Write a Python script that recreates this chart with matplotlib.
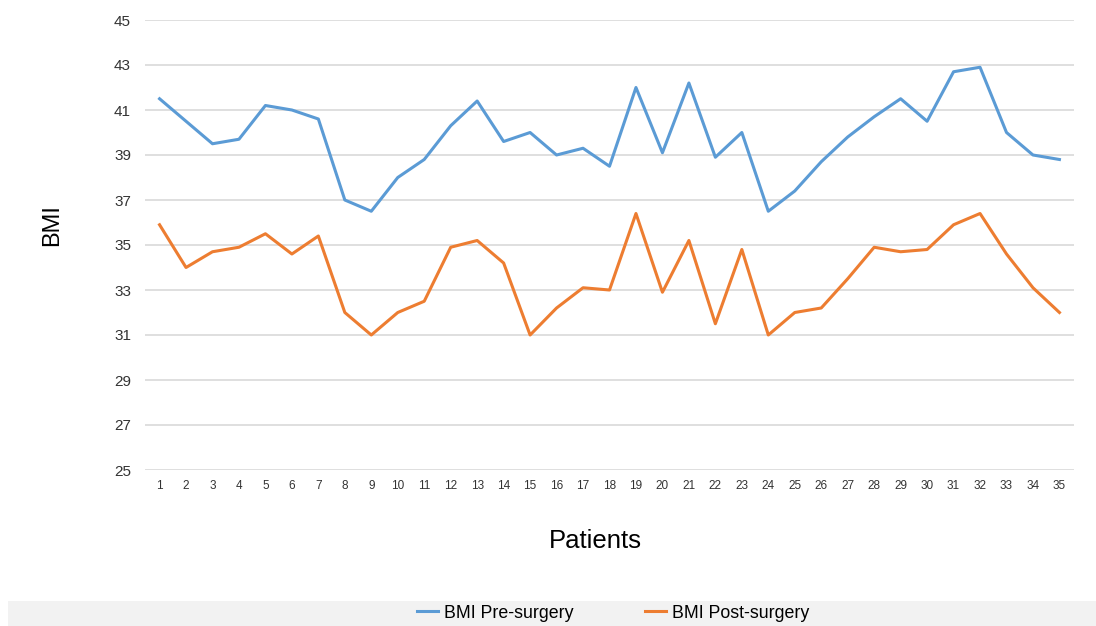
import matplotlib.pyplot as plt
from matplotlib.patches import Rectangle

plt.rcParams['font.family'] = ['Liberation Sans', 'DejaVu Sans']

# Datos
patients = list(range(1, 36))
bmi_pre = [41.5, 40.5, 39.5, 39.7, 41.2, 41.0, 40.6, 37.0, 36.5, 38.0,
           38.8, 40.3, 41.4, 39.6, 40.0, 39.0, 39.3, 38.5, 42.0, 39.1,
           42.2, 38.9, 40.0, 36.5, 37.4, 38.7, 39.8, 40.7, 41.5, 40.5,
           42.7, 42.9, 40.0, 39.0, 38.8]
bmi_post = [35.9, 34.0, 34.7, 34.9, 35.5, 34.6, 35.4, 32.0, 31.0, 32.0,
            32.5, 34.9, 35.2, 34.2, 31.0, 32.2, 33.1, 33.0, 36.4, 32.9,
            35.2, 31.5, 34.8, 31.0, 32.0, 32.2, 33.5, 34.9, 34.7, 34.8,
            35.9, 36.4, 34.6, 33.1, 32.0]
y_ticks = list(range(25, 46, 2))

fig = plt.figure(figsize=(10.96, 6.26), dpi=100)
ax = fig.add_axes([145 / 1096, 1 - 470 / 626, (1074 - 145) / 1096, (470 - 20) / 626])

ax.plot(patients, bmi_pre, color='#5B9BD5', lw=2.2, label='BMI Pre-surgery')
ax.plot(patients, bmi_post, color='#ED7D31', lw=2.2, label='BMI Post-surgery')

ax.set_xlim(0.45, 35.55)
ax.set_ylim(25, 45)
ax.set_yticks(y_ticks)
ax.set_xticks(patients)
ax.tick_params(axis='x', labelsize=8.5, length=0, pad=7, colors='#333333')
ax.tick_params(axis='y', labelsize=11, length=0, pad=10, colors='#333333')
ax.grid(axis='y', color='#d9d9d9', lw=1.2)
ax.set_axisbelow(True)
for s in ax.spines.values():
    s.set_visible(False)

fig.text(52 / 1096, 1 - 225 / 626, 'BMI', rotation=90, fontsize=17,
         ha='center', va='center')
fig.text(595 / 1096, 1 - 541 / 626, 'Patients', fontsize=18.5,
         ha='center', va='center')

# Banda gris de la leyenda
fig.patches.append(Rectangle((8 / 1096, 0), 1, 25 / 626, transform=fig.transFigure,
                             facecolor='#f2f2f2', edgecolor='none', zorder=0))
fig.legend(loc='center', bbox_to_anchor=(613 / 1096, 1 - 613 / 626), ncol=2,
           frameon=False, fontsize=12.8, handlelength=1.2, handletextpad=0.35,
           columnspacing=4.0)

fig.savefig('out.png', dpi=100)
